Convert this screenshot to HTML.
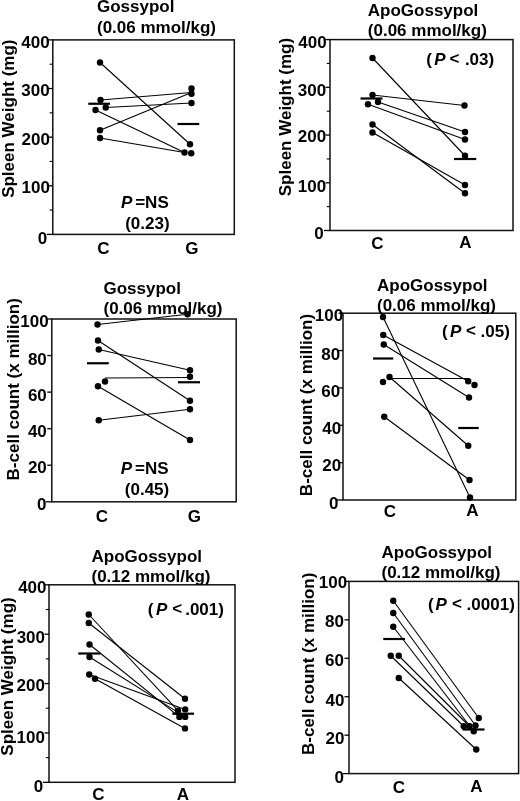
<!DOCTYPE html>
<html><head><meta charset="utf-8"><style>
html,body{margin:0;padding:0;background:#fff;overflow:hidden;}
svg{display:block;will-change:transform;}
text{font-family:"Liberation Sans",sans-serif;font-weight:bold;font-size:17px;fill:#000;}
line{stroke:#000;}
circle{fill:#000;}
</style></head><body>
<svg width="520" height="801" viewBox="0 0 520 801">
<rect x="52.8" y="39.9" width="181.50" height="194.50" fill="none" stroke="#111" stroke-width="1.5"/>
<line x1="46.80" y1="234.40" x2="52.80" y2="234.40" stroke-width="1.3"/>
<line x1="48.30" y1="185.78" x2="52.80" y2="185.78" stroke-width="1.3"/>
<line x1="48.30" y1="137.15" x2="52.80" y2="137.15" stroke-width="1.3"/>
<line x1="48.30" y1="88.53" x2="52.80" y2="88.53" stroke-width="1.3"/>
<line x1="48.30" y1="39.90" x2="52.80" y2="39.90" stroke-width="1.3"/>
<line x1="49.60" y1="210.09" x2="52.80" y2="210.09" stroke-width="1.1"/>
<line x1="49.60" y1="161.46" x2="52.80" y2="161.46" stroke-width="1.1"/>
<line x1="49.60" y1="112.84" x2="52.80" y2="112.84" stroke-width="1.1"/>
<line x1="49.60" y1="64.21" x2="52.80" y2="64.21" stroke-width="1.1"/>
<text x="49.70" y="48.40" text-anchor="end" >400</text>
<text x="49.70" y="96.00" text-anchor="end" >300</text>
<text x="49.90" y="145.40" text-anchor="end" >200</text>
<text x="49.90" y="193.40" text-anchor="end" >100</text>
<text x="47.10" y="243.60" text-anchor="end" >0</text>
<text x="97.00" y="12.30" text-anchor="start" >Gossypol</text>
<text x="97.00" y="33.00" text-anchor="start" >(0.06 mmol/kg)</text>
<text transform="translate(14.3,118.7) rotate(-90)" text-anchor="middle">Spleen Weight (mg)</text>
<text x="103.30" y="254.30" text-anchor="middle" >C</text>
<text x="191.90" y="254.30" text-anchor="middle" >G</text>
<text x="121.00" y="207.50" text-anchor="start" ><tspan font-style="italic">P</tspan></text>
<text x="135.20" y="207.50" text-anchor="start" >=NS</text>
<text x="125.20" y="229.00" text-anchor="start" >(0.23)</text>
<line x1="100.00" y1="62.50" x2="190.00" y2="144.25" stroke-width="1.1"/>
<line x1="100.50" y1="100.00" x2="191.50" y2="92.50" stroke-width="1.1"/>
<line x1="105.75" y1="107.50" x2="191.50" y2="103.00" stroke-width="1.1"/>
<line x1="100.00" y1="130.25" x2="191.50" y2="92.50" stroke-width="1.1"/>
<line x1="95.50" y1="110.00" x2="184.50" y2="152.50" stroke-width="1.1"/>
<line x1="100.00" y1="138.00" x2="184.50" y2="152.50" stroke-width="1.1"/>
<circle cx="100.00" cy="62.50" r="3.2"/>
<circle cx="100.50" cy="100.00" r="3.2"/>
<circle cx="105.75" cy="107.50" r="3.2"/>
<circle cx="95.50" cy="110.00" r="3.2"/>
<circle cx="100.00" cy="130.25" r="3.2"/>
<circle cx="100.00" cy="138.00" r="3.2"/>
<circle cx="191.50" cy="88.50" r="3.2"/>
<circle cx="191.50" cy="93.75" r="3.2"/>
<circle cx="191.50" cy="103.00" r="3.2"/>
<circle cx="190.00" cy="144.25" r="3.2"/>
<circle cx="184.50" cy="152.50" r="3.2"/>
<circle cx="191.25" cy="153.25" r="3.2"/>
<line x1="88.25" y1="103.75" x2="110.00" y2="103.75" stroke-width="2.2"/>
<line x1="177.50" y1="124.00" x2="199.25" y2="124.00" stroke-width="2.2"/>
<rect x="330" y="39.6" width="183.00" height="190.90" fill="none" stroke="#111" stroke-width="1.5"/>
<line x1="324.00" y1="230.50" x2="330.00" y2="230.50" stroke-width="1.3"/>
<line x1="325.50" y1="182.78" x2="330.00" y2="182.78" stroke-width="1.3"/>
<line x1="325.50" y1="135.05" x2="330.00" y2="135.05" stroke-width="1.3"/>
<line x1="325.50" y1="87.32" x2="330.00" y2="87.32" stroke-width="1.3"/>
<line x1="325.50" y1="39.60" x2="330.00" y2="39.60" stroke-width="1.3"/>
<line x1="326.80" y1="206.64" x2="330.00" y2="206.64" stroke-width="1.1"/>
<line x1="326.80" y1="158.91" x2="330.00" y2="158.91" stroke-width="1.1"/>
<line x1="326.80" y1="111.19" x2="330.00" y2="111.19" stroke-width="1.1"/>
<line x1="326.80" y1="63.46" x2="330.00" y2="63.46" stroke-width="1.1"/>
<text x="326.70" y="48.20" text-anchor="end" >400</text>
<text x="326.20" y="96.40" text-anchor="end" >300</text>
<text x="326.10" y="142.40" text-anchor="end" >200</text>
<text x="326.10" y="191.70" text-anchor="end" >100</text>
<text x="323.80" y="238.80" text-anchor="end" >0</text>
<text x="367.80" y="15.70" text-anchor="start" >ApoGossypol</text>
<text x="367.80" y="35.60" text-anchor="start" >(0.06 mmol/kg)</text>
<text transform="translate(290.5,117.1) rotate(-90)" text-anchor="middle">Spleen Weight (mg)</text>
<text x="377.50" y="248.70" text-anchor="middle" >C</text>
<text x="465.30" y="248.00" text-anchor="middle" >A</text>
<text x="426.20" y="64.60" text-anchor="start" >(</text>
<text x="434.30" y="64.60" text-anchor="start" ><tspan font-style="italic">P</tspan></text>
<text x="449.60" y="64.20" text-anchor="start" >&lt;</text>
<text x="464.90" y="64.60" text-anchor="start" >.03)</text>
<line x1="372.50" y1="58.00" x2="465.00" y2="155.75" stroke-width="1.1"/>
<line x1="372.50" y1="95.00" x2="464.50" y2="105.50" stroke-width="1.1"/>
<line x1="378.00" y1="102.00" x2="465.00" y2="132.00" stroke-width="1.1"/>
<line x1="368.00" y1="104.25" x2="465.00" y2="139.50" stroke-width="1.1"/>
<line x1="372.50" y1="124.50" x2="465.00" y2="193.25" stroke-width="1.1"/>
<line x1="372.50" y1="132.50" x2="465.00" y2="185.00" stroke-width="1.1"/>
<circle cx="372.50" cy="58.00" r="3.2"/>
<circle cx="372.50" cy="95.00" r="3.2"/>
<circle cx="378.00" cy="102.00" r="3.2"/>
<circle cx="368.00" cy="104.25" r="3.2"/>
<circle cx="372.50" cy="124.50" r="3.2"/>
<circle cx="372.50" cy="132.50" r="3.2"/>
<circle cx="464.50" cy="105.50" r="3.2"/>
<circle cx="465.00" cy="132.00" r="3.2"/>
<circle cx="465.00" cy="139.50" r="3.2"/>
<circle cx="465.00" cy="155.75" r="3.2"/>
<circle cx="465.00" cy="185.00" r="3.2"/>
<circle cx="465.00" cy="193.25" r="3.2"/>
<line x1="360.50" y1="98.50" x2="382.50" y2="98.50" stroke-width="2.2"/>
<line x1="454.00" y1="159.00" x2="476.25" y2="159.00" stroke-width="2.2"/>
<rect x="51.8" y="319" width="184.40" height="182.80" fill="none" stroke="#111" stroke-width="1.5"/>
<line x1="45.80" y1="501.80" x2="51.80" y2="501.80" stroke-width="1.3"/>
<line x1="47.30" y1="465.24" x2="51.80" y2="465.24" stroke-width="1.3"/>
<line x1="47.30" y1="428.68" x2="51.80" y2="428.68" stroke-width="1.3"/>
<line x1="47.30" y1="392.12" x2="51.80" y2="392.12" stroke-width="1.3"/>
<line x1="47.30" y1="355.56" x2="51.80" y2="355.56" stroke-width="1.3"/>
<line x1="47.30" y1="319.00" x2="51.80" y2="319.00" stroke-width="1.3"/>
<text x="48.70" y="327.10" text-anchor="end" >100</text>
<text x="46.80" y="365.20" text-anchor="end" >80</text>
<text x="46.80" y="401.20" text-anchor="end" >60</text>
<text x="46.80" y="437.40" text-anchor="end" >40</text>
<text x="46.80" y="473.40" text-anchor="end" >20</text>
<text x="46.40" y="510.10" text-anchor="end" >0</text>
<text x="103.50" y="293.50" text-anchor="start" >Gossypol</text>
<text x="103.50" y="314.00" text-anchor="start" >(0.06 mmol/kg)</text>
<text transform="translate(18.8,389.3) rotate(-90)" text-anchor="middle">B-cell count (x million)</text>
<text x="101.90" y="522.20" text-anchor="middle" >C</text>
<text x="194.30" y="522.20" text-anchor="middle" >G</text>
<text x="120.70" y="474.30" text-anchor="start" ><tspan font-style="italic">P</tspan></text>
<text x="135.00" y="474.30" text-anchor="start" >=NS</text>
<text x="124.80" y="494.60" text-anchor="start" >(0.45)</text>
<line x1="97.50" y1="324.50" x2="187.50" y2="314.25" stroke-width="1.1"/>
<line x1="98.00" y1="340.50" x2="190.00" y2="400.75" stroke-width="1.1"/>
<line x1="98.75" y1="349.50" x2="190.00" y2="370.25" stroke-width="1.1"/>
<line x1="105.00" y1="378.00" x2="190.00" y2="377.50" stroke-width="1.1"/>
<line x1="98.00" y1="386.25" x2="190.00" y2="440.00" stroke-width="1.1"/>
<line x1="98.75" y1="420.25" x2="190.00" y2="409.25" stroke-width="1.1"/>
<circle cx="97.50" cy="324.50" r="3.2"/>
<circle cx="98.00" cy="340.50" r="3.2"/>
<circle cx="98.75" cy="349.50" r="3.2"/>
<circle cx="105.00" cy="381.50" r="3.2"/>
<circle cx="98.00" cy="386.25" r="3.2"/>
<circle cx="98.75" cy="420.25" r="3.2"/>
<circle cx="187.50" cy="314.25" r="3.2"/>
<circle cx="190.00" cy="370.25" r="3.2"/>
<circle cx="190.00" cy="376.75" r="3.2"/>
<circle cx="190.00" cy="400.75" r="3.2"/>
<circle cx="190.00" cy="409.25" r="3.2"/>
<circle cx="190.00" cy="440.00" r="3.2"/>
<line x1="87.00" y1="363.25" x2="108.75" y2="363.25" stroke-width="2.2"/>
<line x1="178.00" y1="382.25" x2="200.00" y2="382.25" stroke-width="2.2"/>
<rect x="343" y="313.2" width="172.80" height="186.80" fill="none" stroke="#111" stroke-width="1.5"/>
<line x1="337.00" y1="500.00" x2="343.00" y2="500.00" stroke-width="1.3"/>
<line x1="338.50" y1="462.64" x2="343.00" y2="462.64" stroke-width="1.3"/>
<line x1="338.50" y1="425.28" x2="343.00" y2="425.28" stroke-width="1.3"/>
<line x1="338.50" y1="387.92" x2="343.00" y2="387.92" stroke-width="1.3"/>
<line x1="338.50" y1="350.56" x2="343.00" y2="350.56" stroke-width="1.3"/>
<line x1="338.50" y1="313.20" x2="343.00" y2="313.20" stroke-width="1.3"/>
<text x="343.20" y="320.80" text-anchor="end" >100</text>
<text x="340.10" y="359.60" text-anchor="end" >80</text>
<text x="340.10" y="397.10" text-anchor="end" >60</text>
<text x="341.10" y="434.30" text-anchor="end" >40</text>
<text x="341.10" y="471.00" text-anchor="end" >20</text>
<text x="338.50" y="508.70" text-anchor="end" >0</text>
<text x="377.00" y="290.70" text-anchor="start" >ApoGossypol</text>
<text x="377.00" y="310.90" text-anchor="start" >(0.06 mmol/kg)</text>
<text transform="translate(312.3,405) rotate(-90)" text-anchor="middle">B-cell count (x million)</text>
<text x="389.90" y="516.70" text-anchor="middle" >C</text>
<text x="472.30" y="516.40" text-anchor="middle" >A</text>
<text x="442.00" y="336.70" text-anchor="start" >(</text>
<text x="450.10" y="336.70" text-anchor="start" ><tspan font-style="italic">P</tspan></text>
<text x="466.10" y="336.30" text-anchor="start" >&lt;</text>
<text x="480.50" y="336.70" text-anchor="start" >.05)</text>
<line x1="383.00" y1="317.00" x2="470.00" y2="497.50" stroke-width="1.1"/>
<line x1="383.25" y1="335.00" x2="468.25" y2="381.25" stroke-width="1.1"/>
<line x1="383.75" y1="344.50" x2="469.00" y2="397.50" stroke-width="1.1"/>
<line x1="389.50" y1="378.50" x2="468.25" y2="378.50" stroke-width="1.1"/>
<line x1="389.50" y1="377.00" x2="468.25" y2="445.75" stroke-width="1.1"/>
<line x1="384.25" y1="416.75" x2="469.50" y2="480.00" stroke-width="1.1"/>
<circle cx="383.00" cy="317.00" r="3.2"/>
<circle cx="383.25" cy="335.00" r="3.2"/>
<circle cx="383.75" cy="344.50" r="3.2"/>
<circle cx="389.50" cy="377.00" r="3.2"/>
<circle cx="383.00" cy="382.00" r="3.2"/>
<circle cx="384.25" cy="416.75" r="3.2"/>
<circle cx="468.25" cy="381.25" r="3.2"/>
<circle cx="474.50" cy="385.00" r="3.2"/>
<circle cx="469.00" cy="397.50" r="3.2"/>
<circle cx="468.25" cy="445.75" r="3.2"/>
<circle cx="469.50" cy="480.00" r="3.2"/>
<circle cx="470.00" cy="497.50" r="3.2"/>
<line x1="373.00" y1="358.50" x2="393.25" y2="358.50" stroke-width="2.2"/>
<line x1="458.25" y1="428.00" x2="478.75" y2="428.00" stroke-width="2.2"/>
<rect x="49" y="584.8" width="186.00" height="197.50" fill="none" stroke="#111" stroke-width="1.5"/>
<line x1="43.00" y1="782.30" x2="49.00" y2="782.30" stroke-width="1.3"/>
<line x1="44.50" y1="732.92" x2="49.00" y2="732.92" stroke-width="1.3"/>
<line x1="44.50" y1="683.55" x2="49.00" y2="683.55" stroke-width="1.3"/>
<line x1="44.50" y1="634.17" x2="49.00" y2="634.17" stroke-width="1.3"/>
<line x1="44.50" y1="584.80" x2="49.00" y2="584.80" stroke-width="1.3"/>
<line x1="45.80" y1="757.61" x2="49.00" y2="757.61" stroke-width="1.1"/>
<line x1="45.80" y1="708.24" x2="49.00" y2="708.24" stroke-width="1.1"/>
<line x1="45.80" y1="658.86" x2="49.00" y2="658.86" stroke-width="1.1"/>
<line x1="45.80" y1="609.49" x2="49.00" y2="609.49" stroke-width="1.1"/>
<text x="46.50" y="593.20" text-anchor="end" >400</text>
<text x="45.00" y="642.70" text-anchor="end" >300</text>
<text x="44.90" y="691.20" text-anchor="end" >200</text>
<text x="44.90" y="742.90" text-anchor="end" >100</text>
<text x="43.30" y="792.10" text-anchor="end" >0</text>
<text x="91.50" y="562.10" text-anchor="start" >ApoGossypol</text>
<text x="91.50" y="582.30" text-anchor="start" >(0.12 mmol/kg)</text>
<text transform="translate(12.5,676.5) rotate(-90)" text-anchor="middle">Spleen Weight (mg)</text>
<text x="98.50" y="800.30" text-anchor="middle" >C</text>
<text x="183.00" y="799.60" text-anchor="middle" >A</text>
<text x="147.80" y="615.00" text-anchor="start" >(</text>
<text x="155.90" y="615.00" text-anchor="start" ><tspan font-style="italic">P</tspan></text>
<text x="172.30" y="613.60" text-anchor="start" >&lt;</text>
<text x="185.20" y="615.00" text-anchor="start" >.001)</text>
<line x1="88.75" y1="614.50" x2="178.00" y2="710.60" stroke-width="1.1"/>
<line x1="88.75" y1="623.00" x2="185.00" y2="698.70" stroke-width="1.1"/>
<line x1="89.50" y1="644.50" x2="179.40" y2="716.90" stroke-width="1.1"/>
<line x1="89.50" y1="657.00" x2="185.20" y2="716.90" stroke-width="1.1"/>
<line x1="89.25" y1="674.50" x2="185.20" y2="709.40" stroke-width="1.1"/>
<line x1="95.00" y1="678.75" x2="185.00" y2="728.40" stroke-width="1.1"/>
<circle cx="88.75" cy="614.50" r="3.2"/>
<circle cx="88.75" cy="623.00" r="3.2"/>
<circle cx="89.50" cy="644.50" r="3.2"/>
<circle cx="89.50" cy="657.00" r="3.2"/>
<circle cx="89.25" cy="674.50" r="3.2"/>
<circle cx="95.00" cy="678.75" r="3.2"/>
<circle cx="185.00" cy="698.70" r="3.2"/>
<circle cx="185.20" cy="709.40" r="3.2"/>
<circle cx="178.00" cy="710.60" r="3.2"/>
<circle cx="179.40" cy="716.90" r="3.2"/>
<circle cx="185.20" cy="716.90" r="3.2"/>
<circle cx="185.00" cy="728.40" r="3.2"/>
<line x1="78.25" y1="653.50" x2="100.50" y2="653.50" stroke-width="2.2"/>
<line x1="172.30" y1="713.70" x2="194.00" y2="713.70" stroke-width="2.2"/>
<rect x="349" y="581.4" width="169.60" height="192.20" fill="none" stroke="#111" stroke-width="1.5"/>
<line x1="343.00" y1="773.60" x2="349.00" y2="773.60" stroke-width="1.3"/>
<line x1="344.50" y1="735.16" x2="349.00" y2="735.16" stroke-width="1.3"/>
<line x1="344.50" y1="696.72" x2="349.00" y2="696.72" stroke-width="1.3"/>
<line x1="344.50" y1="658.28" x2="349.00" y2="658.28" stroke-width="1.3"/>
<line x1="344.50" y1="619.84" x2="349.00" y2="619.84" stroke-width="1.3"/>
<line x1="344.50" y1="581.40" x2="349.00" y2="581.40" stroke-width="1.3"/>
<text x="347.10" y="588.40" text-anchor="end" >100</text>
<text x="343.95" y="627.20" text-anchor="end" >80</text>
<text x="343.95" y="665.90" text-anchor="end" >60</text>
<text x="344.40" y="706.10" text-anchor="end" >40</text>
<text x="344.40" y="744.20" text-anchor="end" >20</text>
<text x="344.00" y="782.80" text-anchor="end" >0</text>
<text x="381.50" y="557.90" text-anchor="start" >ApoGossypol</text>
<text x="381.50" y="577.90" text-anchor="start" >(0.12 mmol/kg)</text>
<text transform="translate(314,663.8) rotate(-90)" text-anchor="middle">B-cell count (x million)</text>
<text x="398.80" y="792.60" text-anchor="middle" >C</text>
<text x="476.50" y="791.60" text-anchor="middle" >A</text>
<text x="427.90" y="609.70" text-anchor="start" >(</text>
<text x="435.60" y="609.70" text-anchor="start" ><tspan font-style="italic">P</tspan></text>
<text x="451.90" y="609.30" text-anchor="start" >&lt;</text>
<text x="466.60" y="609.70" text-anchor="start" >.0001)</text>
<line x1="393.25" y1="600.75" x2="478.75" y2="718.00" stroke-width="1.1"/>
<line x1="393.25" y1="613.00" x2="475.50" y2="725.50" stroke-width="1.1"/>
<line x1="393.25" y1="626.75" x2="473.75" y2="731.25" stroke-width="1.1"/>
<line x1="390.75" y1="655.75" x2="463.75" y2="726.25" stroke-width="1.1"/>
<line x1="398.75" y1="655.75" x2="469.50" y2="726.25" stroke-width="1.1"/>
<line x1="398.75" y1="678.00" x2="476.25" y2="749.50" stroke-width="1.1"/>
<circle cx="393.25" cy="600.75" r="3.2"/>
<circle cx="393.25" cy="613.00" r="3.2"/>
<circle cx="393.25" cy="626.75" r="3.2"/>
<circle cx="390.75" cy="655.75" r="3.2"/>
<circle cx="398.75" cy="655.75" r="3.2"/>
<circle cx="398.75" cy="678.00" r="3.2"/>
<circle cx="478.75" cy="718.00" r="3.2"/>
<circle cx="463.75" cy="726.25" r="3.2"/>
<circle cx="469.50" cy="726.25" r="3.2"/>
<circle cx="475.50" cy="725.50" r="3.2"/>
<circle cx="473.75" cy="731.25" r="3.2"/>
<circle cx="476.25" cy="749.50" r="3.2"/>
<line x1="383.25" y1="639.00" x2="405.00" y2="639.00" stroke-width="2.2"/>
<line x1="462.50" y1="729.50" x2="484.50" y2="729.50" stroke-width="2.2"/>
</svg>
</body></html>
